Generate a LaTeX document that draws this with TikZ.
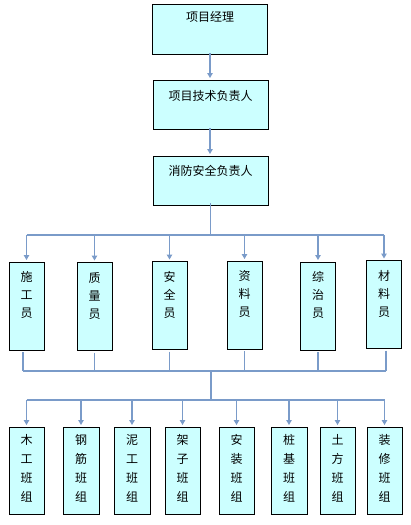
\documentclass[tikz,border=0pt]{standalone}
\usepackage{fontspec}
\setmainfont{Noto Sans CJK SC}
\usetikzlibrary{arrows.meta}
\definecolor{boxfill}{HTML}{CCFFFF}
\definecolor{linkc}{HTML}{7A9BC9}
\begin{document}
\begin{tikzpicture}[x=1pt,y=-1pt,
  box/.style={draw=black,line width=0.9pt,fill=boxfill,inner sep=0pt,outer sep=0pt},
  wide/.style={box,minimum width=115pt,minimum height=49pt},
  tall/.style={box,minimum width=35pt,minimum height=88pt},
  tallb/.style={box,minimum width=35pt,minimum height=87pt},
  txt/.style={font=\fontsize{12}{18}\selectfont,align=center,inner sep=0pt},
  txtb/.style={font=\fontsize{12}{19}\selectfont,align=center,inner sep=0pt},
  link/.style={draw=linkc,line width=1.2pt},
  arr/.style={link,-{Triangle[width=5.5pt,length=5pt]},shorten >=2pt}]
\useasboundingbox (0,0) rectangle (411,525);
% top chain
\node[wide,minimum height=50pt] (pm) at (209.5,29) {};
\node[txt] (pmt) at (210,17) {项目经理};
\node[wide] (tech) at (210.5,104.5) {};
\node[txt] (techt) at (210.5,96) {项目技术负责人};
\node[wide] (fire) at (210.5,180.5) {};
\node[txt] (firet) at (210.5,171) {消防安全负责人};
\draw[arr] ([yshift=1pt]pm.south -| 210,0) -- (tech.north -| 210,0);
\draw[arr] ([yshift=1pt]tech.south -| 210,0) -- (fire.north -| 210,0);
% row 2
\node[tall] (r1) at (26.5,306) {};
\node[tall] (r2) at (94.5,306.5) {};
\node[tall] (r3) at (169.5,305.5) {};
\node[tall] (r4) at (244.5,305) {};
\node[tall] (r5) at (318,306) {};
\node[tall] (r6) at (384,304.5) {};
\node[txt] (r1t) at (r1.north) [yshift=-33pt] {施\\工\\员};
\node[txt] (r2t) at (r2.north) [yshift=-33pt] {质\\量\\员};
\node[txt] (r3t) at (r3.north) [yshift=-33pt] {安\\全\\员};
\node[txt] (r4t) at (r4.north) [yshift=-33pt] {资\\料\\员};
\node[txt] (r5t) at (r5.north) [yshift=-33pt] {综\\治\\员};
\node[txt] (r6t) at (r6.north) [yshift=-33pt] {材\\料\\员};
\coordinate (bus1) at (210.5,235);
\draw[link] ([yshift=2pt]fire.south) -- (bus1);
\draw[link] (r1.north |- bus1) -- (r6.north |- bus1);
\foreach \n in {r1,r2,r3,r4,r5,r6}{\draw[arr] (\n.north |- bus1) -- (\n.north);}
% row 2 to bus
\coordinate (bus2) at (211,371);
\coordinate (bus2l) at (23,371);
\coordinate (bus2r) at (386,371);
\draw[link] (bus2l) -- (bus2r);
\draw[link] ([xshift=-3.5pt,yshift=-2pt]r1.south) -- ([xshift=-3.5pt]r1.south |- bus2);
\foreach \n in {r2,r3,r4,r5}{\draw[link] ([yshift=-2pt]\n.south) -- (\n.south |- bus2);}
\draw[link] ([xshift=2pt,yshift=-2pt]r6.south) -- ([xshift=2pt]r6.south |- bus2);
\coordinate (bus3) at (211,400);
\draw[link] (bus2) -- (bus3);
% row 3
\node[tallb] (b1) at (26.5,470.5) {};
\node[tallb,minimum width=36pt] (b2) at (81,470.5) {};
\node[tallb,minimum width=36pt] (b3) at (132,470.5) {};
\node[tallb] (b4) at (182.5,470.5) {};
\node[tallb] (b5) at (236.5,470.5) {};
\node[tallb,minimum width=36pt] (b6) at (289,470.5) {};
\node[tallb] (b7) at (337.5,470.5) {};
\node[tallb] (b8) at (384.5,470.5) {};
\node[txtb] (b1t) at (b1.center) [yshift=2pt] {木\\工\\班\\组};
\node[txtb] (b2t) at (b2.center) [yshift=2pt] {钢\\筋\\班\\组};
\node[txtb] (b3t) at (b3.center) [yshift=2pt] {泥\\工\\班\\组};
\node[txtb] (b4t) at (b4.center) [yshift=2pt] {架\\子\\班\\组};
\node[txtb] (b5t) at (b5.center) [yshift=2pt] {安\\装\\班\\组};
\node[txtb] (b6t) at (b6.center) [yshift=2pt] {桩\\基\\班\\组};
\node[txtb] (b7t) at (b7.center) [yshift=2pt] {土\\方\\班\\组};
\node[txtb] (b8t) at (b8.center) [yshift=2pt] {装\\修\\班\\组};
\draw[link] (b1.north |- bus3) -- (b8.north |- bus3);
\foreach \n in {b1,b2,b3,b4,b5,b6,b7,b8}{\draw[arr] (\n.north |- bus3) -- (\n.north);}
\end{tikzpicture}
\end{document}
